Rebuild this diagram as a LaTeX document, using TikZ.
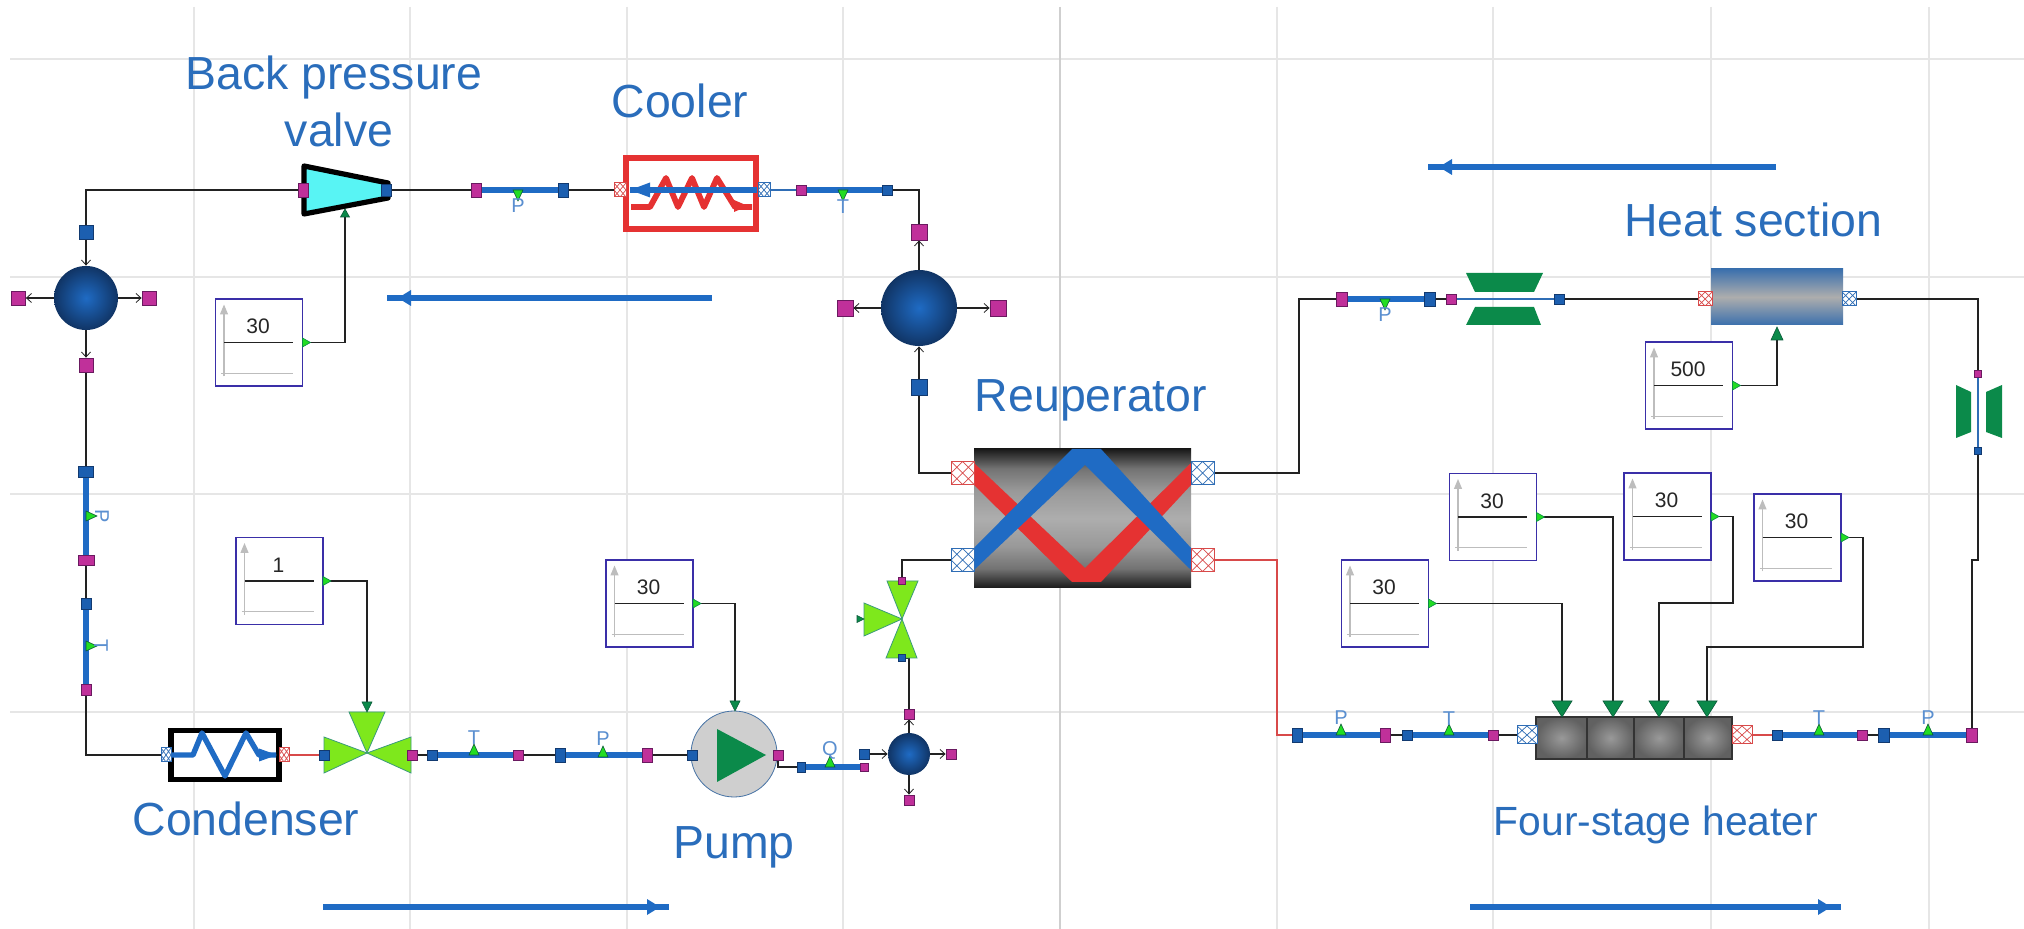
\documentclass[tikz,border=0pt]{standalone}
\usepackage{fontspec}
\setmainfont{Liberation Sans}
\usetikzlibrary{arrows.meta}
\definecolor{gridc}{HTML}{E6E6E6}
\definecolor{gridd}{HTML}{CFCFCF}
\definecolor{flowb}{HTML}{1F6BC4}
\definecolor{labb}{HTML}{2A6DBB}
\definecolor{senb}{HTML}{5A8FD0}
\definecolor{magf}{HTML}{C0309A}
\definecolor{magd}{HTML}{6A1A60}
\definecolor{bluf}{HTML}{1C5FB0}
\definecolor{blud}{HTML}{123A70}
\definecolor{redc}{HTML}{E53232}
\definecolor{wirered}{HTML}{D84A4A}
\definecolor{portb}{HTML}{2F6DB5}
\definecolor{cyanv}{HTML}{58F4F4}
\definecolor{limev}{HTML}{7EE81C}
\definecolor{limee}{HTML}{3A9A7A}
\definecolor{greenm}{HTML}{0B8A4A}
\definecolor{greend}{HTML}{0B5A3A}
\definecolor{boxb}{HTML}{3A2FA8}
\definecolor{axisg}{HTML}{BDBDBD}
\definecolor{senf}{HTML}{22DD22}
\definecolor{wirec}{HTML}{222222}
\pgfdeclarelayer{bg}
\pgfdeclarelayer{wires}
\pgfsetlayers{bg,wires,main}
\pgfdeclareverticalshading{recshade}{100bp}{rgb(0bp)=(.1,.1,.1);rgb(25bp)=(.1,.1,.1);rgb(32bp)=(.45,.45,.45);rgb(40bp)=(.6,.6,.6);rgb(50bp)=(.68,.68,.68);rgb(60bp)=(.6,.6,.6);rgb(68bp)=(.45,.45,.45);rgb(75bp)=(.1,.1,.1);rgb(100bp)=(.1,.1,.1)}
\tikzset{
  gridl/.style={draw=gridc,line width=.6pt},
  griddk/.style={draw=gridd,line width=.6pt},
  wire/.style={draw=wirec,line width=.75pt},
  wirearrow/.style={wire,-{Straight Barb[length=2.5pt,width=4.5pt,line width=.4pt]}},
  redwire/.style={draw=wirered,line width=.6pt},
  thinblue/.style={draw=portb,line width=.6pt},
  pipe/.style={draw=flowb,line width=2.7pt},
  flow/.style={draw=flowb,line width=3pt},
  mag/.style 2 args={rectangle,draw=magd,fill=magf,line width=.4pt,minimum width=#1*.5pt,minimum height=#2*.5pt,inner sep=0pt},
  blu/.style 2 args={rectangle,draw=blud,fill=bluf,line width=.4pt,minimum width=#1*.5pt,minimum height=#2*.5pt,inner sep=0pt},
  hatch/.style={path picture={\draw[#1,line width=.35pt]
     (path picture bounding box.south west)--(path picture bounding box.north east)
     (path picture bounding box.north west)--(path picture bounding box.south east)
     (path picture bounding box.west)--(path picture bounding box.north)--(path picture bounding box.east)--(path picture bounding box.south)--cycle;}},
  port/.style n args={3}{rectangle,draw=#1,fill=white,line width=.5pt,minimum width=#2*.5pt,minimum height=#3*.5pt,inner sep=0pt,hatch=#1},
  ball/.style={circle,draw=none,inner sep=0pt,minimum size=#1*.5pt,inner color=flowb,outer color=blud!90!black},
  cbx/.style={rectangle,draw=boxb,fill=white,line width=.7pt,minimum width=43.5pt,minimum height=43.5pt,inner sep=0pt},
  cval/.style={font=\fontsize{10.5pt}{12pt}\selectfont,text=black!85,inner sep=0pt},
  lab/.style={font=\fontsize{23.2pt}{27pt}\selectfont,text=labb,anchor=base,inner sep=0pt},
  labs/.style={font=\fontsize{20.4pt}{24pt}\selectfont,text=labb,anchor=base,inner sep=0pt},
  senlab/.style={font=\fontsize{10pt}{12pt}\selectfont,text=senb,inner sep=0pt},
  sent/.style={fill=senf,draw=greend,line width=.3pt},
  sigt/.style={fill=greenm,draw=greend,line width=.3pt},
  outt/.style={fill=senf,draw=greenm,line width=.3pt},
  flowt/.style={fill=flowb},
  redt/.style={fill=redc},
  valve3/.style={fill=limev,draw=limee,line width=.4pt},
  cell/.style={rectangle,draw=black!80,line width=.8pt,minimum height=21pt,inner sep=0pt,inner color=black!40,outer color=black!62},
}
% name, x, y, angle, width, height, style
\newcommand\tri[7]{\coordinate (#1) at (#2,#3);
  \begin{scope}[shift={(#2,#3)},rotate=#4]
    \path[#7] ({-(#5)/2},0) -- ({(#5)/2},0) -- (0,{-(#6)}) -- cycle;
  \end{scope}}
% name, x, y, angle, label, lx, ly, lrot
\newcommand\sens[8]{\tri{#1}{#2}{#3}{#4}{10}{11}{sent}
  \node[senlab,rotate=#8] (#1l) at (#6,#7) {#5};}
% name, x, y, value
\newcommand\constbx[4]{\node[cbx] (#1) at (#2,#3) {};
  \begin{scope}[shift={(#2,#3)}]
    \draw[axisg,line width=.6pt,-{Triangle[length=5pt,width=4pt]}] (-35,34) -- (-35,-38);
    \draw[axisg,line width=.5pt] (-38,31) -- (34,31);
    \draw[wirec,line width=.7pt] (-35,0) -- (34,0);
    \node[cval] (#1v) at (-1,-16) {#4};
  \end{scope}
  \tri{#1o}{#2+43.5}{#3}{-90}{9}{8}{outt}}
\begin{document}
\begin{tikzpicture}[x=.5pt,y=-.5pt]
\useasboundingbox (0,0) rectangle (2024,929);
\begin{pgfonlayer}{bg}
\fill[white] (0,0) rectangle (2024,929);
\foreach \gy in {59,277,494,712} \draw[gridl] (10,\gy) -- (2024,\gy);
\foreach \gx in {194,410,627,843,1277,1493,1711,1929} \draw[gridl] (\gx,7) -- (\gx,929);
\draw[griddk] (1060,7) -- (1060,929);
\end{pgfonlayer}
% labels
\node[lab] (tbp) at (334,90) {Back pressure};
\node[lab] (tval) at (339,147) {valve};
\node[lab] (tcool) at (680,118) {Cooler};
\node[lab] (trec) at (1091,412) {Reuperator};
\node[lab] (theat) at (1753,237) {Heat section};
\node[lab] (tcond) at (246,835) {Condenser};
\node[lab] (tpump) at (734,858) {Pump};
\node[labs] (tfour) at (1656,835) {Four-stage heater};
% flow arrows
\coordinate (fa1s) at (712,298); \coordinate (fa1e) at (387,298);
\draw[flow] (fa1s) -- (fa1e); \tri{fa1h}{411}{298}{90}{16}{13}{flowt}
\coordinate (fa2s) at (1776,167); \coordinate (fa2e) at (1428,167);
\draw[flow] (fa2s) -- (fa2e); \tri{fa2h}{1452}{167}{90}{16}{13}{flowt}
\coordinate (fa3s) at (323,907); \coordinate (fa3e) at (669,907);
\draw[flow] (fa3s) -- (fa3e); \tri{fa3h}{647}{907}{-90}{16}{13}{flowt}
\coordinate (fa4s) at (1470,907); \coordinate (fa4e) at (1841,907);
\draw[flow] (fa4s) -- (fa4e); \tri{fa4h}{1818}{907}{-90}{16}{13}{flowt}
% back pressure valve
\path[fill=cyanv,draw=black,line width=2.6pt,line join=round] (304,166) -- (388,183) -- (388,198) -- (304,214) -- cycle;
\node[mag={10}{14}] (vin) at (303,190) {};
\node[blu={10}{12}] (vout) at (386,190) {};
\tri{vsig}{345}{217}{0}{9}{8}{sigt}
\constbx{bx1}{259}{342.5}{30}
% left sphere
\node[ball=64] (s1) at (86,298) {};
\node[blu={14}{14}] (s1t) at (86,232) {};
\node[mag={14}{14}] (s1b) at (86,365) {};
\node[mag={14}{14}] (s1l) at (18.5,298) {};
\node[mag={14}{14}] (s1r) at (149,298) {};
% left column pipes
\node[blu={15}{11}] (lc1) at (86,472) {};
\node[mag={16}{10}] (lc2) at (86,560) {};
\node[blu={10}{11}] (lc3) at (86,604) {};
\node[mag={10}{11}] (lc4) at (86,690) {};
\begin{pgfonlayer}{wires}
\draw[pipe] (lc1) -- (lc2);
\draw[pipe] (lc3) -- (lc4);
\end{pgfonlayer}
\sens{lcs1}{86}{516}{-90}{P}{102}{516}{-90}
\sens{lcs2}{86}{646}{-90}{T}{101}{646}{-90}
% condenser
\node[rectangle,draw=black,fill=white,line width=2.8pt,minimum width=54pt,minimum height=24.5pt,inner sep=0pt] (cond) at (225,755) {};
\draw[flowb,line width=2.7pt,line join=round] (172,755) -- (193,755) -- (202,733) -- (225,776) -- (246,733) -- (259,755) -- (276,755);
\tri{condh}{259}{755}{-90}{13}{18}{flowt}
\node[port={portb}{10}{14}] (condl) at (166,755) {};
\node[port={wirered}{10}{14}] (condr) at (284,755) {};
% three way valve
\path[valve3] (349,712) -- (385,712) -- (367,753) -- cycle;
\path[valve3] (324,737) -- (324,773) -- (367,753) -- cycle;
\path[valve3] (411,737) -- (411,773) -- (367,753) -- cycle;
\node[blu={10}{10}] (v1l) at (324,755) {};
\node[mag={10}{10}] (v1r) at (412,755) {};
\tri{v1s}{367}{702}{180}{10}{10}{sigt}
\constbx{bx2}{279.5}{581}{1}
% bottom left pipes
\node[blu={10}{10}] (p3b) at (432,755) {};
\node[mag={10}{10}] (p3m) at (518,755) {};
\node[blu={10}{14}] (p4b) at (560,755) {};
\node[mag={10}{14}] (p4m) at (647,755) {};
\begin{pgfonlayer}{wires}
\draw[pipe] (p3b) -- (p3m);
\draw[pipe] (p4b) -- (p4m);
\end{pgfonlayer}
\sens{p3s}{474}{755}{0}{T}{474}{738}{0}
\sens{p4s}{603}{757}{0}{P}{603}{739}{0}
% pump
\node[circle,draw=portb!70!gray,fill=black!19,line width=.4pt,minimum size=43pt,inner sep=0pt] (pump) at (734,754) {};
\path[fill=greenm] (717,729) -- (717,782) -- (766,755) -- cycle;
\node[blu={10}{10}] (pumpi) at (692,755) {};
\node[mag={10}{10}] (pumpo) at (778,755) {};
\tri{pumps}{735}{701}{180}{10}{10}{sigt}
\constbx{bx3}{649.5}{603.5}{30}
% pipe Q and small sphere
\node[blu={8}{10}] (p5b) at (801,767) {};
\node[mag={8}{8}] (p5m) at (864,767) {};
\node[blu={10}{10}] (ssl) at (864,754) {};
\begin{pgfonlayer}{wires}
\draw[pipe] (p5b) -- (p5m);
\end{pgfonlayer}
\sens{p5s}{830}{767}{0}{Q}{830}{750}{0}
\node[ball=42] (s3) at (909,754) {};
\node[mag={10}{10}] (s3t) at (909,714) {};
\node[mag={10}{10}] (s3r) at (951,754) {};
\node[mag={10}{10}] (s3b) at (909,800) {};
% small valve
\path[valve3] (887,581) -- (918,581) -- (902,619) -- cycle;
\path[valve3] (886,658) -- (917,658) -- (902,619) -- cycle;
\path[valve3] (864,603) -- (864,636) -- (902,619) -- cycle;
\node[mag={7}{7}] (v2t) at (902,581) {};
\node[blu={7}{7}] (v2b) at (902,658) {};
\tri{v2s}{857}{619}{-90}{7}{7}{sigt}
% upper pipes
\node[mag={10}{14}] (p1m) at (476,190) {};
\node[blu={10}{14}] (p1b) at (563,190) {};
\begin{pgfonlayer}{wires}
\draw[pipe] (p1m) -- (p1b);
\end{pgfonlayer}
\sens{p1s}{518}{190}{180}{P}{518}{206}{0}
% cooler
\node[rectangle,draw=redc,fill=white,line width=2.8pt,minimum width=65pt,minimum height=35.5pt,inner sep=0pt] (cool) at (691,193.5) {};
\draw[redc,line width=2.9pt,line join=round] (631,207) -- (650,207) -- (666,178) -- (678,207) -- (692,178) -- (704,207) -- (717,178) -- (735,207) -- (752,207);
\tri{coolr}{734}{206}{-90}{12}{14}{redt}
\draw[flowb,line width=3pt] (630,190) -- (757,190);
\tri{coolb}{650}{190}{90}{15}{20}{flowt}
\node[port={wirered}{12}{14}] (cooll) at (620,190) {};
\node[port={portb}{12}{14}] (coolr2) at (764,190) {};
\node[mag={10}{10}] (p2m) at (801,190) {};
\node[blu={10}{10}] (p2b) at (887,190) {};
\begin{pgfonlayer}{wires}
\draw[pipe] (p2m) -- (p2b);
\end{pgfonlayer}
\sens{p2s}{843}{190}{180}{T}{843}{207}{0}
% right sphere
\node[ball=76] (s2) at (919,308) {};
\node[mag={16}{16}] (s2t) at (919,232) {};
\node[mag={16}{16}] (s2l) at (845,308) {};
\node[mag={16}{16}] (s2r) at (998,308) {};
\node[blu={16}{16}] (s2b) at (919,387) {};
% recuperator
\node[rectangle,shade,shading=recshade,minimum width=108.5pt,minimum height=69.5pt,inner sep=0pt] (rec) at (1082.5,518.5) {};
\path[fill=redc] (974,463) -- (1085,568) -- (1191,463) -- (1191,485) -- (1101,582) -- (1072,582) -- (974,485) -- cycle;
\path[fill=flowb] (974,548) -- (1072,449) -- (1101,449) -- (1191,548) -- (1191,570) -- (1085,465) -- (974,570) -- cycle;
\node[port={wirered}{23}{23}] (recrl) at (962.5,473) {};
\node[port={portb}{23}{23}] (recbl) at (962.5,560) {};
\node[port={portb}{23}{23}] (recbr) at (1202.5,473) {};
\node[port={wirered}{23}{23}] (recrr) at (1202.5,560) {};
% heat section pipes
\node[mag={11}{14}] (h1m) at (1342,299) {};
\node[blu={11}{14}] (h1b) at (1430,299) {};
\begin{pgfonlayer}{wires}
\draw[pipe] (h1m) -- (h1b);
\end{pgfonlayer}
\sens{h1s}{1385}{299}{180}{P}{1385}{315}{0}
\node[mag={10}{10}] (h2m) at (1451,299) {};
\node[blu={10}{10}] (h2b) at (1559,299) {};
\path[fill=greenm] (1466,273) -- (1543,273) -- (1534,292) -- (1475,292) -- cycle;
\path[fill=greenm] (1475,307) -- (1534,307) -- (1541,325) -- (1466,325) -- cycle;
% heat section
\node[rectangle,top color=portb!85!gray,bottom color=portb!85!gray,middle color=black!32,minimum width=66pt,minimum height=28pt,inner sep=0pt] (heat) at (1777,297) {};
\node[port={wirered}{14}{14}] (heatl) at (1705,299) {};
\node[port={portb}{14}{14}] (heatr) at (1849,299) {};
\tri{heats}{1777}{340}{0}{12}{13}{sigt}
\constbx{bx4}{1689}{385.5}{500}
% turbine
\node[mag={7}{7}] (t1m) at (1978,374) {};
\node[blu={7}{7}] (t1b) at (1978,451) {};
\path[fill=greenm] (1956,385) -- (1971,392) -- (1971,432) -- (1956,438) -- cycle;
\path[fill=greenm] (2002,385) -- (1986,392) -- (1986,432) -- (2002,438) -- cycle;
% four stage heater inputs
\constbx{bx5}{1385}{603.5}{30}
\constbx{bx6}{1493}{517}{30}
\constbx{bx7}{1667.5}{516.5}{30}
\constbx{bx8}{1797.5}{537.5}{30}
% four stage heater
\node[cell,minimum width=25.5pt] (c1) at (1561.5,738) {};
\node[cell,minimum width=23.5pt] (c2) at (1610.5,738) {};
\node[cell,minimum width=25pt] (c3) at (1659,738) {};
\node[cell,minimum width=24pt] (c4) at (1708,738) {};
\tri{c1s}{1562}{701}{180}{20}{16}{sigt}
\tri{c2s}{1613}{701}{180}{20}{16}{sigt}
\tri{c3s}{1659}{701}{180}{20}{16}{sigt}
\tri{c4s}{1707}{701}{180}{20}{16}{sigt}
\node[port={portb}{20}{18}] (fhl) at (1527,735) {};
\node[port={wirered}{20}{18}] (fhr) at (1742,735) {};
% lower right pipes
\node[blu={10}{14}] (q1b) at (1297,735) {};
\node[mag={10}{14}] (q1m) at (1385,735) {};
\node[blu={10}{10}] (q2b) at (1407,735) {};
\node[mag={10}{10}] (q2m) at (1493,735) {};
\node[blu={10}{10}] (q3b) at (1777,735) {};
\node[mag={10}{10}] (q3m) at (1862,735) {};
\node[blu={11}{14}] (q4b) at (1884,735) {};
\node[mag={11}{14}] (q4m) at (1972,735) {};
\begin{pgfonlayer}{wires}
\draw[pipe] (q1b) -- (q1m);
\draw[pipe] (q2b) -- (q2m);
\draw[pipe] (q3b) -- (q3m);
\draw[pipe] (q4b) -- (q4m);
\end{pgfonlayer}
\sens{q1s}{1341}{735}{0}{P}{1341}{718}{0}
\sens{q2s}{1449}{735}{0}{T}{1449}{719}{0}
\sens{q3s}{1819}{735}{0}{T}{1819}{718}{0}
\sens{q4s}{1928}{735}{0}{P}{1928}{718}{0}
% junctions
\coordinate (j1) at (1299,299);
\coordinate (j2) at (1277,735);
\coordinate (j3) at (1972,560);
\coordinate (j4) at (1733,603);
\coordinate (j5) at (1863,647);
% connectors
\begin{pgfonlayer}{wires}
\draw[wire] (vin.west) -| (s1t.north);
\draw[wire] (vout.east) -- (p1m.west);
\draw[wire] (bx1o) -| (vsig);
\draw[wirearrow] (s1t.south) -- (s1.north);
\draw[wirearrow] (s1.south) -- (s1b.north);
\draw[wirearrow] (s1.west) -- (s1l.east);
\draw[wirearrow] (s1.east) -- (s1r.west);
\draw[wire] (s1b.south) -- (lc1.north);
\draw[wire] (lc2.south) -- (lc3.north);
\draw[wire] (lc4.south) |- (condl.west);
\draw[redwire] (condr.east) -- (v1l.west);
\draw[wire] (bx2o) -| (v1s);
\draw[wire] (v1r.east) -- (p3b.west);
\draw[wire] (p3m.east) -- (p4b.west);
\draw[wire] (p4m.east) -- (pumpi.west);
\draw[wire] (bx3o) -| (pumps);
\draw[wire] (pumpo.south) |- (p5b.west);
\draw[wirearrow] (ssl.east) -- (s3.west);
\draw[wirearrow] (s3.north) -- (s3t.south);
\draw[wirearrow] (s3.east) -- (s3r.west);
\draw[wirearrow] (s3.south) -- (s3b.north);
\draw[wire] (s3t.north) |- (v2b.east);
\draw[wire] (recbl.west) -| (v2t.north);
\draw[wire] (s2b.south) |- (recrl.west);
\draw[wirearrow] (s2b.north) -- (s2.south);
\draw[wirearrow] (s2.north) -- (s2t.south);
\draw[wirearrow] (s2.west) -- (s2l.east);
\draw[wirearrow] (s2.east) -- (s2r.west);
\draw[wire] (p2b.east) -| (s2t.north);
\draw[thinblue] (coolr2.east) -- (p2m.west);
\draw[wire] (p1b.east) -- (cooll.west);
\draw[wire] (recbr.east) -| (j1) -- (h1m.west);
\draw[wire] (h1b.east) -- (h2m.west);
\draw[thinblue] (h2m.east) -- (h2b.west);
\draw[wire] (h2b.east) -- (heatl.west);
\draw[wire] (heatr.east) -| (t1m.north);
\draw[wire] (bx4o) -| (heats);
\draw[thinblue] (t1m.south) -- (t1b.north);
\draw[wire] (t1b.south) |- (j3) -- (q4m.north);
\draw[redwire] (recrr.east) -| (j2) -- (q1b.west);
\draw[wire] (q1m.east) -- (q2b.west);
\draw[wire] (q2m.east) -- (fhl.west);
\draw[redwire] (fhr.east) -- (q3b.west);
\draw[wire] (q3m.east) -- (q4b.west);
\draw[wire] (bx5o) -| (c1s);
\draw[wire] (bx6o) -| (c2s);
\draw[wire] (bx7o) -| (j4) -| (c3s);
\draw[wire] (bx8o) -| (j5) -| (c4s);
\end{pgfonlayer}
\end{tikzpicture}
\end{document}
